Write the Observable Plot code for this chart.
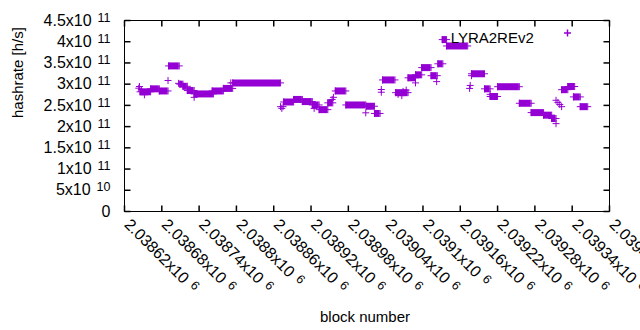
<!DOCTYPE html>
<html><head><meta charset="utf-8">
<script src="https://cdn.jsdelivr.net/npm/d3@7"></script>
<script src="https://cdn.jsdelivr.net/npm/@observablehq/plot@0.6"></script>
<style>body{margin:0;background:#fff}</style>
</head><body><div id="chart"></div>
<script>
// ---- data ----
const seriesName = "LYRA2REv2";
// runs of consecutive blocks with the same hashrate
const runStart = [2038645,2038662,2038676,2038691,2038709,2038714,2038721,2038732,2038761,2038779,2038794,2038876,2038892,2038906,2038922,2038933,2038947,2038959,2038976,2039009,2039022,2039035,2039056,2039076,2039088,2039098,2039113,2039124,2039131,2039138,2039178,2039199,2039208,2039220,2039255,2039274,2039294,2039307,2039323,2039333,2039342,2039353];
const runEnd   = [2038662,2038676,2038690,2038708,2038714,2038721,2038732,2038763,2038779,2038794,2038871,2038892,2038906,2038922,2038933,2038947,2038955,2038976,2039008,2039022,2039031,2039055,2039076,2039088,2039098,2039113,2039123,2039132,2039138,2039172,2039199,2039208,2039220,2039255,2039274,2039294,2039307,2039314,2039333,2039344,2039353,2039365];
const runValue = [2.82e11,2.89e11,2.84e11,3.43e11,3.00e11,2.95e11,2.85e11,2.77e11,2.84e11,2.90e11,3.03e11,2.58e11,2.64e11,2.59e11,2.51e11,2.40e11,2.56e11,2.84e11,2.51e11,2.48e11,2.31e11,3.10e11,2.80e11,3.15e11,3.22e11,3.39e11,3.20e11,3.48e11,4.05e11,3.90e11,3.245e11,2.89e11,2.71e11,2.94e11,2.55e11,2.33e11,2.27e11,2.19e11,2.87e11,2.945e11,2.70e11,2.47e11];
// single blocks
const ptBlock = [2038643,2038644,2038647,2038652,2038690,2038707,2038732,2038791,2038871,2038873,2038875,2038925,2038956,2038954,2039008,2039033,2039033,2039060,2039066,2039068,2039073,2039088,2039122,2039175,2039176,2039178,2039208,2039314,2039314,2039317,2039320,2039323];
const ptValue = [2.905e11,2.945e11,2.87e11,2.75e11,3.086e11,3.02e11,2.69e11,3.03e11,2.47e11,2.43e11,2.47e11,2.43e11,2.69e11,2.64e11,2.325e11,2.874e11,2.81e11,2.76e11,2.73e11,2.83e11,2.86e11,3.03e11,3.06e11,2.90e11,2.97e11,3.20e11,2.76e11,2.07e11,2.62e11,2.57e11,2.52e11,2.47e11];
// axes
const yTicks = [0,5e10,1e11,1.5e11,2e11,2.5e11,3e11,3.5e11,4e11,4.5e11];
const yTickLabels = ["0","5x10","1x10","1.5x10","2x10","2.5x10","3x10","3.5x10","4x10","4.5x10"];
const yTickExps = ["","10","11","11","11","11","11","11","11","11"];
const xTicks = [2038620,2038680,2038740,2038800,2038860,2038920,2038980,2039040,2039100,2039160,2039220,2039280,2039340,2039400];
const xTickLabels = ["2.03862x10","2.03868x10","2.03874x10","2.0388x10","2.03886x10","2.03892x10","2.03898x10","2.03904x10","2.0391x10","2.03916x10","2.03922x10","2.03928x10","2.03934x10","2.0394x10"];
const xTickExps = ["6","6","6","6","6","6","6","6","6","6","6","6","6","6"];
const xLabel = "block number";
const yLabel = "hashrate [h/s]";

// ---- tables built from the arrays ----
const runs = runStart.map((s,i)=>({s, e: runEnd[i], v: runValue[i]}));
const pts = ptBlock.map((b,i)=>({b, v: ptValue[i]}));
const yT = yTicks.map((v,i)=>({v, label: yTickLabels[i], exp: yTickExps[i]}));
const xT = xTicks.map((v,i)=>({v, label: xTickLabels[i], exp: xTickExps[i]}));

const purple = "#9400D3";
const H = 3.5;
const cross = {draw(c){ c.moveTo(-H,0); c.lineTo(H,0); c.moveTo(0,-H); c.lineTo(0,H); }};
const TL = 6;
const tickR = {draw(c){ c.moveTo(0,0); c.lineTo(TL,0); }};
const tickL = {draw(c){ c.moveTo(0,0); c.lineTo(-TL,0); }};
const tickD = {draw(c){ c.moveTo(0,0); c.lineTo(0,TL); }};
const tickU = {draw(c){ c.moveTo(0,0); c.lineTo(0,-TL); }};

const chart = Plot.plot({
  width: 640, height: 330,
  marginLeft: 124, marginRight: 31, marginTop: 20, marginBottom: 119,
  style: {fontFamily: "'Liberation Sans', Arial, sans-serif", fontSize: "15px", background: "#fff", color: "#000"},
  x: {domain: [2038620, 2039400], axis: null},
  y: {domain: [0, 4.5e11], axis: null},
  marks: [
    Plot.ruleY(runs, {y: "v", x1: "s", x2: "e", stroke: purple, strokeWidth: 2*H}),
    Plot.dot(runs, {x: "s", y: "v", symbol: cross, stroke: purple, fill: "none", strokeWidth: 1}),
    Plot.dot(runs, {x: "e", y: "v", symbol: cross, stroke: purple, fill: "none", strokeWidth: 1}),
    Plot.dot(pts, {x: "b", y: "v", symbol: cross, stroke: purple, fill: "none", strokeWidth: 1}),
    Plot.frame({stroke: "#000", strokeWidth: 1}),
    Plot.dot(yT, {y: "v", frameAnchor: "left", symbol: tickR, stroke: "#000", fill: "none"}),
    Plot.dot(yT, {y: "v", frameAnchor: "right", symbol: tickL, stroke: "#000", fill: "none"}),
    Plot.dot(xT, {x: "v", frameAnchor: "bottom", symbol: tickU, stroke: "#000", fill: "none"}),
    Plot.dot(xT, {x: "v", frameAnchor: "top", symbol: tickD, stroke: "#000", fill: "none"}),
    Plot.text(yT, {y: "v", text: d => d.exp ? d.label + " " : d.label, frameAnchor: "left", textAnchor: "end", dx: -14, fontSize: 16, fill: "#000"}),
    Plot.text(xT, {x: "v", text: d => d.label + " ", frameAnchor: "bottom", rotate: 45, textAnchor: "start", lineAnchor: "bottom", dx: -1, dy: 14, fontSize: 16, fill: "#000"}),
    Plot.text([yLabel], {text: d => d, frameAnchor: "left", rotate: -90, dx: -106, dy: 2, fill: "#000"}),
    Plot.text([xLabel], {text: d => d, frameAnchor: "bottom", lineAnchor: "bottom", dx: -2, dy: 110.7, fill: "#000"}),
    Plot.text([seriesName], {text: d => d, frameAnchor: "top-right", textAnchor: "end", dx: -75.7, dy: 12, fill: "#000"}),
    Plot.dot([seriesName], {frameAnchor: "top-right", dx: -42, dy: 12.5, symbol: cross, stroke: purple, fill: "none"})
  ]
});
document.getElementById("chart").appendChild(chart);

// superscript exponents on tick labels
const expOf = new Map();
yT.forEach(d => { if (d.exp) expOf.set(d.label + " ", d.exp); });
xT.forEach(d => { if (d.exp) expOf.set(d.label + " ", d.exp); });
d3.select(chart).selectAll("text").each(function(){
  const t = this.textContent;
  if (!expOf.has(t)) return;
  d3.select(this).append("tspan").attr("font-size", 12.5).attr("dx", 1.5).attr("dy", -4).text(expOf.get(t));
});
</script></body></html>
